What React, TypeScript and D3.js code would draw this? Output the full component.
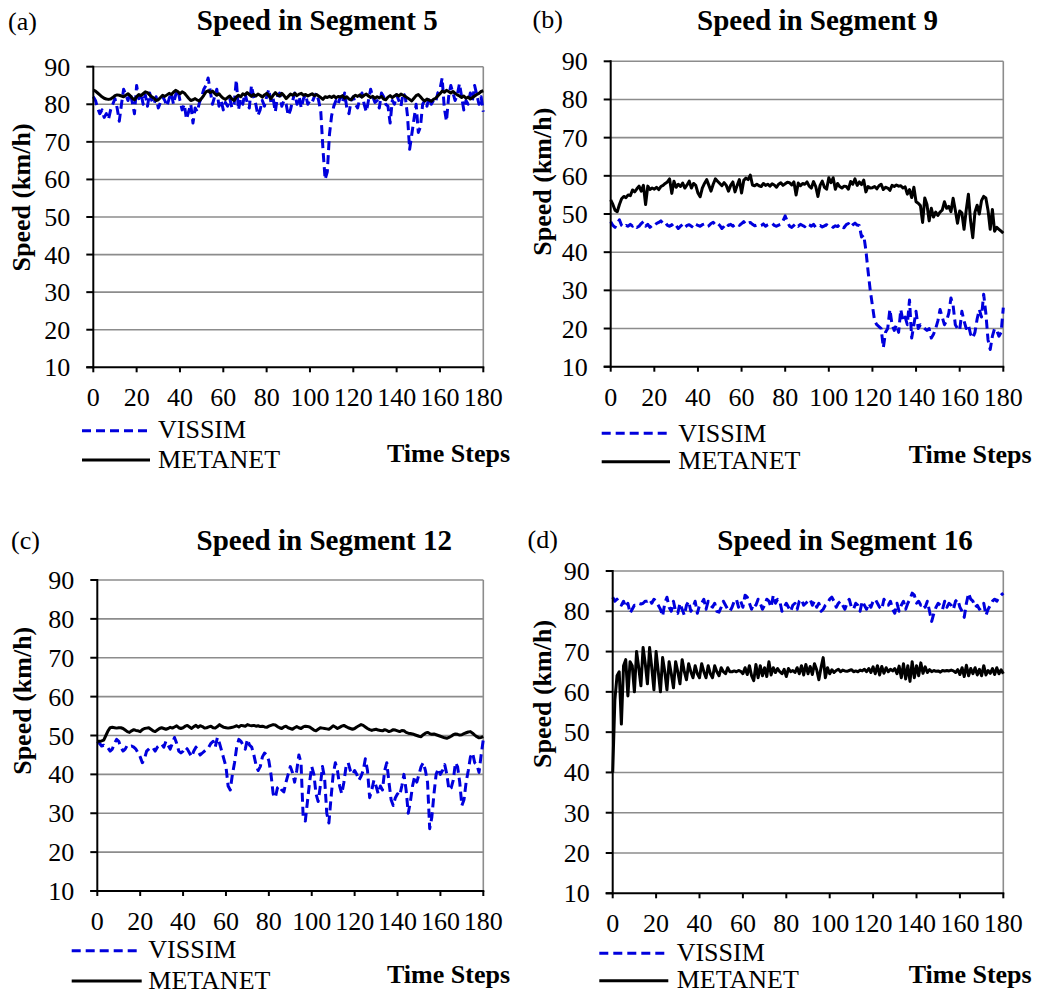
import React from 'react';
import * as d3 from 'd3';

// ---------- data ----------
const timeSteps: number[] = d3.range(0, 181);
const xTickValues = [0, 20, 40, 60, 80, 100, 120, 140, 160, 180];
const yTickValues = [10, 20, 30, 40, 50, 60, 70, 80, 90];
const seriesNames = ['VISSIM', 'METANET'];
const panelLabels = ['(a)', '(b)', '(c)', '(d)'];
const panelTitles = ['Speed in Segment 5', 'Speed in Segment 9', 'Speed in Segment 12', 'Speed in Segment 16'];
const yAxisTitle = 'Speed (km/h)';
const xAxisTitle = 'Time Steps';

const vissimSeg5 = [
  82, 81, 79, 77.5, 78.5, 76.5, 77.5, 76, 78.5, 80,
  81.5, 79, 75.5, 80, 84, 82.5, 81, 83, 80.5, 77.5,
  85, 81.5, 83, 80, 82.5, 79.5, 83, 81, 80, 82,
  79, 80.5, 82, 81, 79.5, 81.5, 83, 80, 82.5, 84,
  81, 78.5, 80, 76, 78, 80, 75, 79, 78, 80.5,
  82, 84, 85, 87, 83.5, 80, 82, 84, 79.5, 81,
  78.5, 80.5, 79.5, 81.5, 79, 80, 86.5, 78.5, 81.5, 80,
  83, 80.5, 79, 85, 82, 80, 77, 78.5, 81, 79.5,
  82, 84, 80.5, 81.5, 78, 82, 83, 79.5, 81, 80,
  77, 78.5, 81, 83, 80, 82, 79, 81.5, 82.5, 80,
  81, 80.5, 82, 83, 81, 78, 68, 60, 62, 72,
  77, 79.5, 81, 80, 82, 80.5, 83, 79, 77.5, 81,
  82, 80, 79, 81.5, 83, 80, 78, 81, 84, 82,
  80.5, 81, 79, 83, 82, 80, 79.5, 75, 81, 80,
  82.5, 81, 79.5, 83, 82, 77, 68, 72, 76, 80,
  72.5, 74, 80, 81, 79.5, 82, 80, 81, 80.5, 83,
  84, 87, 79, 75.5, 82, 85, 83, 81, 82.5, 85.5,
  82, 78.5, 81, 80, 83, 81, 85, 82.5, 80, 82,
  78,
];
const metanetSeg5 = [
  83.8, 83.5, 83, 82.5, 82, 81.6, 81.4, 81.3, 81.4, 81.8,
  82.3, 82.5, 82.4, 82.2, 82, 82.4, 82.8, 82.3, 81.6, 81.2,
  82, 82.6, 82.3, 82.8, 83.3, 83.1, 82.5, 82, 81.6, 81,
  81.2, 81.8, 82.4, 82.1, 82.5, 82.9, 82.6, 83.2, 83.7, 83.4,
  82.8, 83.3, 83, 82.3, 81.6, 81, 81.2, 81.5, 81.1, 80.9,
  81.6, 82.4, 83.3, 83.6, 83.1, 83.5, 82.9, 82.4, 82.8, 82.1,
  81.6, 81.3, 81.8, 82.2, 81.4, 81, 81.9, 82.4, 82, 82.8,
  82.5, 83.1, 82.6, 82.1, 82.6, 82.2, 82.7, 82.4, 81.9, 82.5,
  82.9, 82.3, 81.5, 82.4, 83.1, 82.5, 82.2, 82.9, 82.3, 81.5,
  82.1, 82.7, 82.4, 82.9, 82.3, 82.7, 82.9, 82.4, 82.6, 82.2,
  82.5, 82.8, 82.3, 82.6, 82.2, 81.8, 81.3, 82, 81.8, 82.1,
  81.8, 82.2, 81.7, 82.1, 81.9, 82.3, 81.6, 82, 81.4, 81.2,
  82, 82.4, 82.1, 82.5, 81.9, 82.4, 82.7, 82.2, 81.8, 82.1,
  81.6, 82, 81.7, 82.1, 81.4, 81.2, 81.9, 82.3, 81.8, 82.2,
  82.6, 82.2, 82.7, 82.4, 82.1, 81.7, 81.3, 80.9, 81.6, 82.3,
  82.6, 82, 81.3, 80.9, 81.4, 81.1, 80.8, 81.3, 81.6, 82.2,
  82.8, 83.5, 83.2, 83.7, 83.4, 83, 83.4, 82.9, 82.5, 82.2,
  81.8, 82.2, 81.6, 81.9, 81.4, 81.8, 82.2, 82.6, 82.9, 83.4,
  83.6,
];

const vissimSeg9 = [
  48, 47, 46.5, 47.5, 48.5, 47, 46.5, 47, 46.8, 47.3,
  46.8, 47.2, 46.5, 46.8, 47.5, 48, 46.8, 47.3, 46.5, 47,
  46.8, 47.5, 47.8, 48.2, 47.5, 47.8, 47, 46.8, 47.2, 46.5,
  47, 46.2, 46.8, 47.3, 46.5, 47, 47.2, 46.8, 46.4, 47.3,
  47, 46.8, 47.2, 47.4, 46.7, 46.9, 47.5, 47.8, 47.2, 47.6,
  47, 46.2, 46.8, 47.6, 47, 47.3, 46.8, 47.2, 47.5, 47,
  47.5, 48, 47.2, 47.6, 47.8, 47.3, 46.9, 47.1, 46.8, 47,
  47.4, 46.8, 47.2, 47.5, 47.6, 47, 46.8, 47.1, 47.3, 48.2,
  49.5, 48, 46.8, 46.5, 47, 47.5, 46.8, 47.3, 47, 46.7,
  47.5, 47.2, 46.8, 47.3, 46.5, 46.8, 47, 46.6, 46.9, 47.2,
  46.8, 47, 46.5, 46.9, 46.7, 47.3, 46.6, 46.4, 47.2, 47.5,
  46.6, 47.2, 47.6, 47.1, 47, 44, 44.5, 40.5, 35, 30,
  26, 22, 21, 20.5, 20, 15, 19, 20, 25, 21,
  19.5, 21, 19, 25, 22, 23, 21, 27.5, 17.5, 21,
  24.5, 20, 21, 20.5, 20, 19.5, 20, 17.5, 18.5, 20,
  22, 25, 23, 21, 22, 24, 28, 26, 21, 20,
  19.5, 24.5, 22, 20, 21, 18.5, 17.5, 19, 22.5, 25,
  23, 29, 24, 17, 14.5, 18, 20, 19.5, 18, 19,
  25.5,
];
const metanetSeg9 = [
  53.7, 52.5, 51, 50.6, 52.5, 54, 54.6, 54.3, 55, 54.8,
  56.3, 55.8, 56.6, 57.3, 56, 57.5, 52.5, 57.3, 56.4, 56.8,
  56.5, 57, 56.4, 57.2, 57.5, 58, 58.4, 59.2, 55.4, 58.6,
  57, 57.8, 57.2, 58.1, 56.8, 57.6, 58.6, 56.8, 58, 57.5,
  55.5, 54.5, 56.8, 58, 59, 57.5, 56, 57.8, 59.2, 58.6,
  58, 57.4, 58.2, 57.5, 56, 57.5, 58.4, 55.8, 57.5, 59,
  55.5, 58.8, 59.4, 59, 60.2, 57.6, 57.4, 57.8, 57.4, 57.2,
  58, 57.5, 57.8, 57.3, 57.9, 57.6, 57, 57.8, 58.2, 57.5,
  57.9, 58.3, 58.2, 57.6, 58.4, 55, 58.1, 57.4, 58, 57.8,
  58.4, 57.3, 56.8, 58.5, 57.2, 54.6, 57.5, 58.6, 57, 56.5,
  59.5, 58.2, 59.5, 56.5, 58, 57.2, 56.8, 57.3, 57.2, 56.5,
  58.5, 57.8, 59.2, 57.5, 58.4, 57.7, 58.9, 55.8, 57.2, 56.8,
  56.9, 57.2, 56.6, 57.4, 57.8, 56.4, 57, 56.8, 56.2, 57.5,
  57.2, 57.6, 57.3, 57.4, 56.8, 57.1, 55.2, 56.4, 54.3, 57,
  53.2, 52.8, 52.2, 47.8, 54.2, 52.5, 48.2, 51.5, 49.2, 50.5,
  49.6, 50.5, 51, 53.2, 51.5, 52, 50.6, 54.1, 51, 47.6,
  50.8, 50.3, 46, 51, 55.2, 48.2, 43.8, 50.5, 52.3, 50,
  53.5, 54.6, 54.2, 51, 46, 51.2, 45.5, 46.5, 46, 45.5,
  45,
];

const vissimSeg12 = [
  48.5, 48, 47.3, 47.5, 47, 46.8, 46, 46.5, 48, 49,
  48.5, 47, 46, 46.5, 47.5, 47.2, 47.3, 47, 46.5, 45.5,
  44.5, 43, 44, 46, 46.5, 47, 46.8, 46, 47, 47.5,
  47.8, 47, 48.5, 47.5, 46.5, 48, 49.5, 48, 46, 45.5,
  46, 47, 46.5, 45.5, 44.5, 46, 47, 46, 45, 45.5,
  46, 46.5, 47, 48, 48.5, 47, 49.5, 48, 46, 44,
  42, 37, 36, 40, 43, 47, 49, 48.5, 47.5, 46.5,
  49, 47.5, 47, 45, 42.5, 41, 42, 44.5, 45.5, 45,
  43.5, 40, 35, 34, 36.5, 37, 36, 35.5, 38, 40,
  42, 40.5, 38, 41, 45, 43, 29, 28, 33, 38,
  42, 40, 35, 33, 37, 42, 39, 30, 27.5, 34,
  40, 43, 41, 37, 35, 38, 42, 43, 41, 40,
  41, 40, 38.5, 39.5, 41, 44, 41, 34, 36, 38.5,
  37, 35, 37, 36, 41, 43, 38, 33.5, 32, 34,
  35, 34.5, 37, 40, 36, 30, 33, 37, 39.5, 38,
  40, 42, 43, 41, 38, 26, 29, 35, 40, 41.5,
  40, 41, 42.5, 40, 36, 36.5, 38.5, 43, 42, 38,
  32, 33.5, 38, 41, 44.5, 45.5, 43, 42.5, 40.5, 45,
  49,
];
const metanetSeg12 = [
  48.5, 48.5, 48.6, 48.8, 50, 51.2, 52, 52.1, 52, 51.9,
  52, 52, 51.8, 51.4, 51, 50.8, 51.2, 51.5, 51.3, 51.2,
  51, 51.5, 51.8, 51.9, 52, 51.6, 51.2, 51, 51.4, 51.8,
  52, 51.8, 51.6, 51.8, 52.1, 51.9, 52.2, 52.5, 52, 51.8,
  52, 52.4, 52.6, 52.2, 51.8, 52.3, 52.6, 52.1, 52.5, 52.3,
  51.9, 52, 52.2, 52.4, 52, 51.9, 52.3, 52.8, 52.4, 52.1,
  52, 51.9, 52, 52.1, 52.3, 52.5, 52.2, 52.6, 52.5, 52.4,
  52.8, 52.6, 52.5, 52.6, 52.4, 52.5, 52.3, 52.4, 52.2, 52.1,
  52.4, 52.6, 52.8, 52.7, 52.3, 52, 51.8, 52.2, 52.4, 52,
  51.8, 51.6, 52, 52.3, 52, 51.8, 52.2, 52.4, 52.3, 52.2,
  51.8, 51.4, 51.2, 51.6, 52, 51.9, 51.8, 51.7, 51.6, 52,
  52.5, 52.2, 51.8, 52.1, 52.4, 52.6, 52.3, 52, 51.8, 51.6,
  51.8, 52.2, 52.5, 52.8, 52.6, 52.2, 51.8, 51.5, 51.3, 51.5,
  51.6, 51.4, 51.3, 51.2, 51.5, 51.3, 51, 51.2, 51.5, 51.4,
  51.2, 51, 51.3, 51.2, 50.8, 50.6, 50.5, 50.4, 50.2, 50,
  49.8, 49.7, 50.2, 50.6, 50.8, 50.5, 50.3, 50.4, 50.2, 50,
  49.8, 49.6, 49.4, 49.3, 49.5, 49.8, 50.2, 50.4, 50.3, 50.1,
  50.2, 50.5, 50.7, 50.9, 51, 50.6, 50.1, 49.7, 49.4, 49.5,
  49.7,
];

const vissimSeg16 = [
  83.5, 82.5, 83, 82, 81.5, 82.5, 81, 82, 79.5, 80.5,
  81.5, 81.5, 82, 81.8, 82, 82.5, 82.5, 83, 82, 83,
  82.5, 81.5, 80.5, 78.8, 82, 83.5, 81, 80, 82.5, 80,
  79.5, 82, 80.5, 79, 81.5, 82.5, 80, 81, 82.5, 79.5,
  81.5, 82, 83, 80.5, 82.5, 81.5, 81, 82, 80, 79.8,
  81, 82.5, 81.5, 80.5, 80, 81, 82.5, 83, 81, 82.5,
  81, 84, 83.5, 82, 80.5, 82, 81.5, 83, 82, 80.5,
  81.5, 83, 82.5, 81, 84, 82, 83, 82.5, 80, 81,
  82, 81, 80, 81.5, 82, 80.5, 82.5, 83, 81.5, 82,
  82.5, 83, 81.5, 82.5, 81, 82, 80, 80.5, 81.5, 82,
  83, 83.5, 82.5, 81, 82, 82.5, 81.5, 80.5, 82, 83,
  81, 80.5, 82, 81.5, 80, 82.5, 81.5, 80.5, 82, 81,
  82.5, 83, 82, 81, 80.5, 83, 82, 81.5, 82.5, 80.5,
  79.5, 82, 80, 81.5, 82.5, 80.5, 82, 83, 84.5, 84,
  82, 82.5, 81.5, 82, 81, 82.5, 80, 77.5, 79.5, 81,
  82, 81.5, 80.5, 82.5, 81, 82, 81.5, 80.5, 82.5, 83,
  81, 80, 78.5, 82, 84.5, 83, 82.5, 81, 81.5, 80.5,
  81, 82, 79, 80.5, 81.5, 82.5, 83, 82.5, 83.5, 84,
  84.5,
];
const metanetSeg16 = [
  40, 58, 64, 65, 52, 66.5, 68, 59, 67.5, 66.5,
  60, 70, 66, 61.5, 71, 67, 62, 71, 66, 60.5,
  70, 65, 60, 68.5, 65, 60.5, 67.5, 64.5, 61, 67.5,
  65, 62, 68, 65, 63, 67, 65, 63.5, 66.5, 64.5,
  63.5, 67, 65, 63.5, 66.5, 64.5, 63.5, 66.5, 65, 64,
  66, 65, 64.5, 66, 65, 65, 65.2, 65, 65.3, 65.1,
  64.5, 66, 64.3, 66.5, 64, 62.8, 66.8, 63.5, 66.5, 64,
  66, 63.8, 67.5, 64.2, 66, 64.8, 65.8, 65, 64.5, 65.6,
  63.8, 65.8, 65, 65.3, 64.8, 66, 64.5, 66.5, 64.2, 66.8,
  64.5, 66.3, 64.3, 67, 65.5, 63, 66, 68.5, 63.5, 66,
  64.5, 65.5, 64.8, 65.3, 65.6, 65, 65.4, 65.2, 65.1, 65.3,
  65.5, 65, 65.2, 65, 65.4, 65.2, 65.6, 65, 65.8, 64.8,
  66.2, 64.5, 66.5, 64.2, 66.3, 64.6, 66, 65, 65.6, 65.2,
  65.8, 64.5, 66.4, 63.5, 67, 63.2, 66.5, 62.6, 67.5, 63.5,
  66.5, 64, 67.2, 64.6, 66.2, 64.8, 65.5, 65, 65.3, 65.1,
  65.2, 64.9, 65.3, 65.2, 65.3, 65.2, 65.4, 65.2, 64.8, 65.5,
  64.3, 66, 63.8, 66.6, 64, 65.8, 64.5, 66, 64.2, 65.6,
  64, 66.5, 64.2, 65.3, 64.6, 65.8, 64.3, 66, 64.5, 65.5,
  64.5,
];

const vissimSeries = [vissimSeg5, vissimSeg9, vissimSeg12, vissimSeg16];
const metanetSeries = [metanetSeg5, metanetSeg9, metanetSeg12, metanetSeg16];

// ---------- layout ----------
type Layout = {
  left: number; right: number; top: number; bottom: number;
  labX: number; labY: number; titleX: number; titleY: number;
  yTitleX: number; yTitleY: number;
  legX1: number; legX2: number; legY1: number; legY2: number;
  legTextX: number; legTY1: number; legTY2: number;
  tsX: number; tsY: number;
};

const layouts: Layout[] = [
  { left: 93.3, right: 483.3, top: 66.7, bottom: 367.3, labX: 8, labY: 30, titleX: 317.2, titleY: 29.5,
    yTitleX: 30, yTitleY: 197.5, legX1: 82, legX2: 150, legY1: 430.7, legY2: 460, legTextX: 158,
    legTY1: 438.3, legTY2: 468, tsX: 510, tsY: 461.7 },
  { left: 610.7, right: 1003.3, top: 61.3, bottom: 366.7, labX: 532.5, labY: 28, titleX: 817.5, titleY: 30,
    yTitleX: 550.5, yTitleY: 181.7, legX1: 601.7, legX2: 670, legY1: 433.3, legY2: 461.7, legTextX: 678.3,
    legTY1: 441.7, legTY2: 469.3, tsX: 1031.7, tsY: 462.7 },
  { left: 97.3, right: 483.3, top: 580, bottom: 891, labX: 11, labY: 549, titleX: 324.3, titleY: 550,
    yTitleX: 30.5, yTitleY: 700.8, legX1: 71.7, legX2: 141.7, legY1: 950.7, legY2: 981, legTextX: 148.3,
    legTY1: 958.3, legTY2: 989.3, tsX: 510, tsY: 982.7 },
  { left: 612.7, right: 1003.3, top: 571, bottom: 893.3, labX: 527.5, labY: 548, titleX: 845, titleY: 550,
    yTitleX: 551, yTitleY: 694, legX1: 599.3, legX2: 668.3, legY1: 953.3, legY2: 980.7, legTextX: 676.7,
    legTY1: 961, legTY2: 988.3, tsX: 1031.7, tsY: 983.3 },
];

const FONT = "'Liberation Serif', 'DejaVu Serif', serif";
const BLUE = '#0000dd';
const GRID = '#8c8c8c';
const DASH = '9,5';

function Panel({ idx }: { idx: number }) {
  const L = layouts[idx];
  const x = d3.scaleLinear().domain([0, 180]).range([L.left, L.right]);
  const y = d3.scaleLinear().domain([10, 90]).range([L.bottom, L.top]);
  const line = d3.line<number>().x((_, i) => x(timeSteps[i])).y((d) => y(d));
  const vis = vissimSeries[idx];
  const met = metanetSeries[idx];
  return (
    <g>
      {yTickValues.filter((v) => v > 10).map((v) => (
        <line key={'g' + v} x1={L.left} x2={L.right} y1={y(v)} y2={y(v)} stroke={GRID} strokeWidth={1.6} />
      ))}
      <line x1={L.right} x2={L.right} y1={L.top} y2={L.bottom} stroke={GRID} strokeWidth={1.6} />
      <path d={line(vis) || ''} fill="none" stroke={BLUE} strokeWidth={3} strokeDasharray={DASH} strokeLinejoin="round" />
      <path d={line(met) || ''} fill="none" stroke="#000" strokeWidth={3} strokeLinejoin="round" />
      <line x1={L.left} x2={L.left} y1={L.top - 1} y2={L.bottom + 1} stroke="#000" strokeWidth={2} />
      <line x1={L.left - 7} x2={L.right + 1} y1={L.bottom} y2={L.bottom} stroke="#000" strokeWidth={2} />
      {yTickValues.map((v) => (
        <g key={'yt' + v}>
          <line x1={L.left - 7} x2={L.left} y1={y(v)} y2={y(v)} stroke="#000" strokeWidth={2} />
          <text x={L.left - 23} y={y(v) + 9} textAnchor="end" fontSize={26} fontFamily={FONT}>{v}</text>
        </g>
      ))}
      {xTickValues.map((v) => (
        <g key={'xt' + v}>
          <line x1={x(v)} x2={x(v)} y1={L.bottom} y2={L.bottom + 5} stroke="#000" strokeWidth={2} />
          <text x={x(v)} y={L.bottom + 39} textAnchor="middle" fontSize={26} fontFamily={FONT}>{v}</text>
        </g>
      ))}
      <text x={L.labX} y={L.labY} fontSize={26} fontFamily={FONT}>{panelLabels[idx]}</text>
      <text x={L.titleX} y={L.titleY} fontSize={29} fontWeight="bold" textAnchor="middle" fontFamily={FONT}>{panelTitles[idx]}</text>
      <text transform={`translate(${L.yTitleX},${L.yTitleY}) rotate(-90)`} fontSize={26} fontWeight="bold" textAnchor="middle" fontFamily={FONT}>{yAxisTitle}</text>
      <text x={L.tsX} y={L.tsY} fontSize={26} fontWeight="bold" textAnchor="end" fontFamily={FONT}>{xAxisTitle}</text>
      <line x1={L.legX1} x2={L.legX2} y1={L.legY1} y2={L.legY1} stroke={BLUE} strokeWidth={3} strokeDasharray={DASH} />
      <text x={L.legTextX} y={L.legTY1} fontSize={26} fontFamily={FONT}>{seriesNames[0]}</text>
      <line x1={L.legX1} x2={L.legX2} y1={L.legY2} y2={L.legY2} stroke="#000" strokeWidth={3} />
      <text x={L.legTextX} y={L.legTY2} fontSize={26} fontFamily={FONT}>{seriesNames[1]}</text>
    </g>
  );
}

export default function App() {
  return (
    <svg width={1037} height={995} style={{ position: 'absolute', left: 0, top: 0, background: '#fff' }}>
      <rect x={0} y={0} width={1037} height={995} fill="#fff" />
      {[0, 1, 2, 3].map((i) => <Panel key={i} idx={i} />)}
    </svg>
  );
}
